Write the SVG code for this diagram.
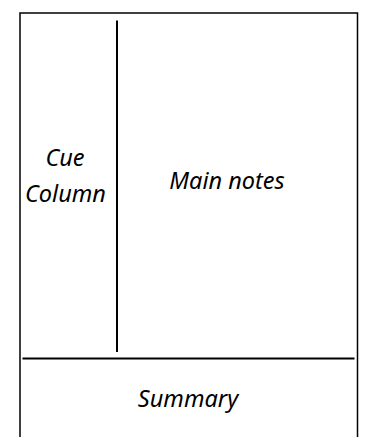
<svg xmlns="http://www.w3.org/2000/svg" width="365" height="437" viewBox="0 0 365 437">
<style>
.lbl{font-family:"Noto Sans","Open Sans",sans-serif;font-style:italic;font-size:23.5px;fill:#000;text-anchor:middle}
.frame{fill:none;stroke:#000;stroke-width:1.5}
.ln{stroke:#000;stroke-width:2}
</style>
<rect width="365" height="437" fill="#fff"/>
<g id="frame">
<path class="frame" d="M20,440 V13 H357.5 V440"/>
</g>
<g id="connectors">
<line class="ln" x1="117" y1="20.5" x2="117" y2="352"/>
<line class="ln" x1="22.5" y1="358.5" x2="354.5" y2="358.5"/>
</g>
<g id="cue">
<text class="lbl" x="65" y="166">Cue</text>
<text class="lbl" x="65.5" y="201.5">Column</text>
</g>
<g id="main">
<text class="lbl" x="227" y="189">Main notes</text>
</g>
<g id="summary">
<text class="lbl" x="188" y="407">Summary</text>
</g>
</svg>
